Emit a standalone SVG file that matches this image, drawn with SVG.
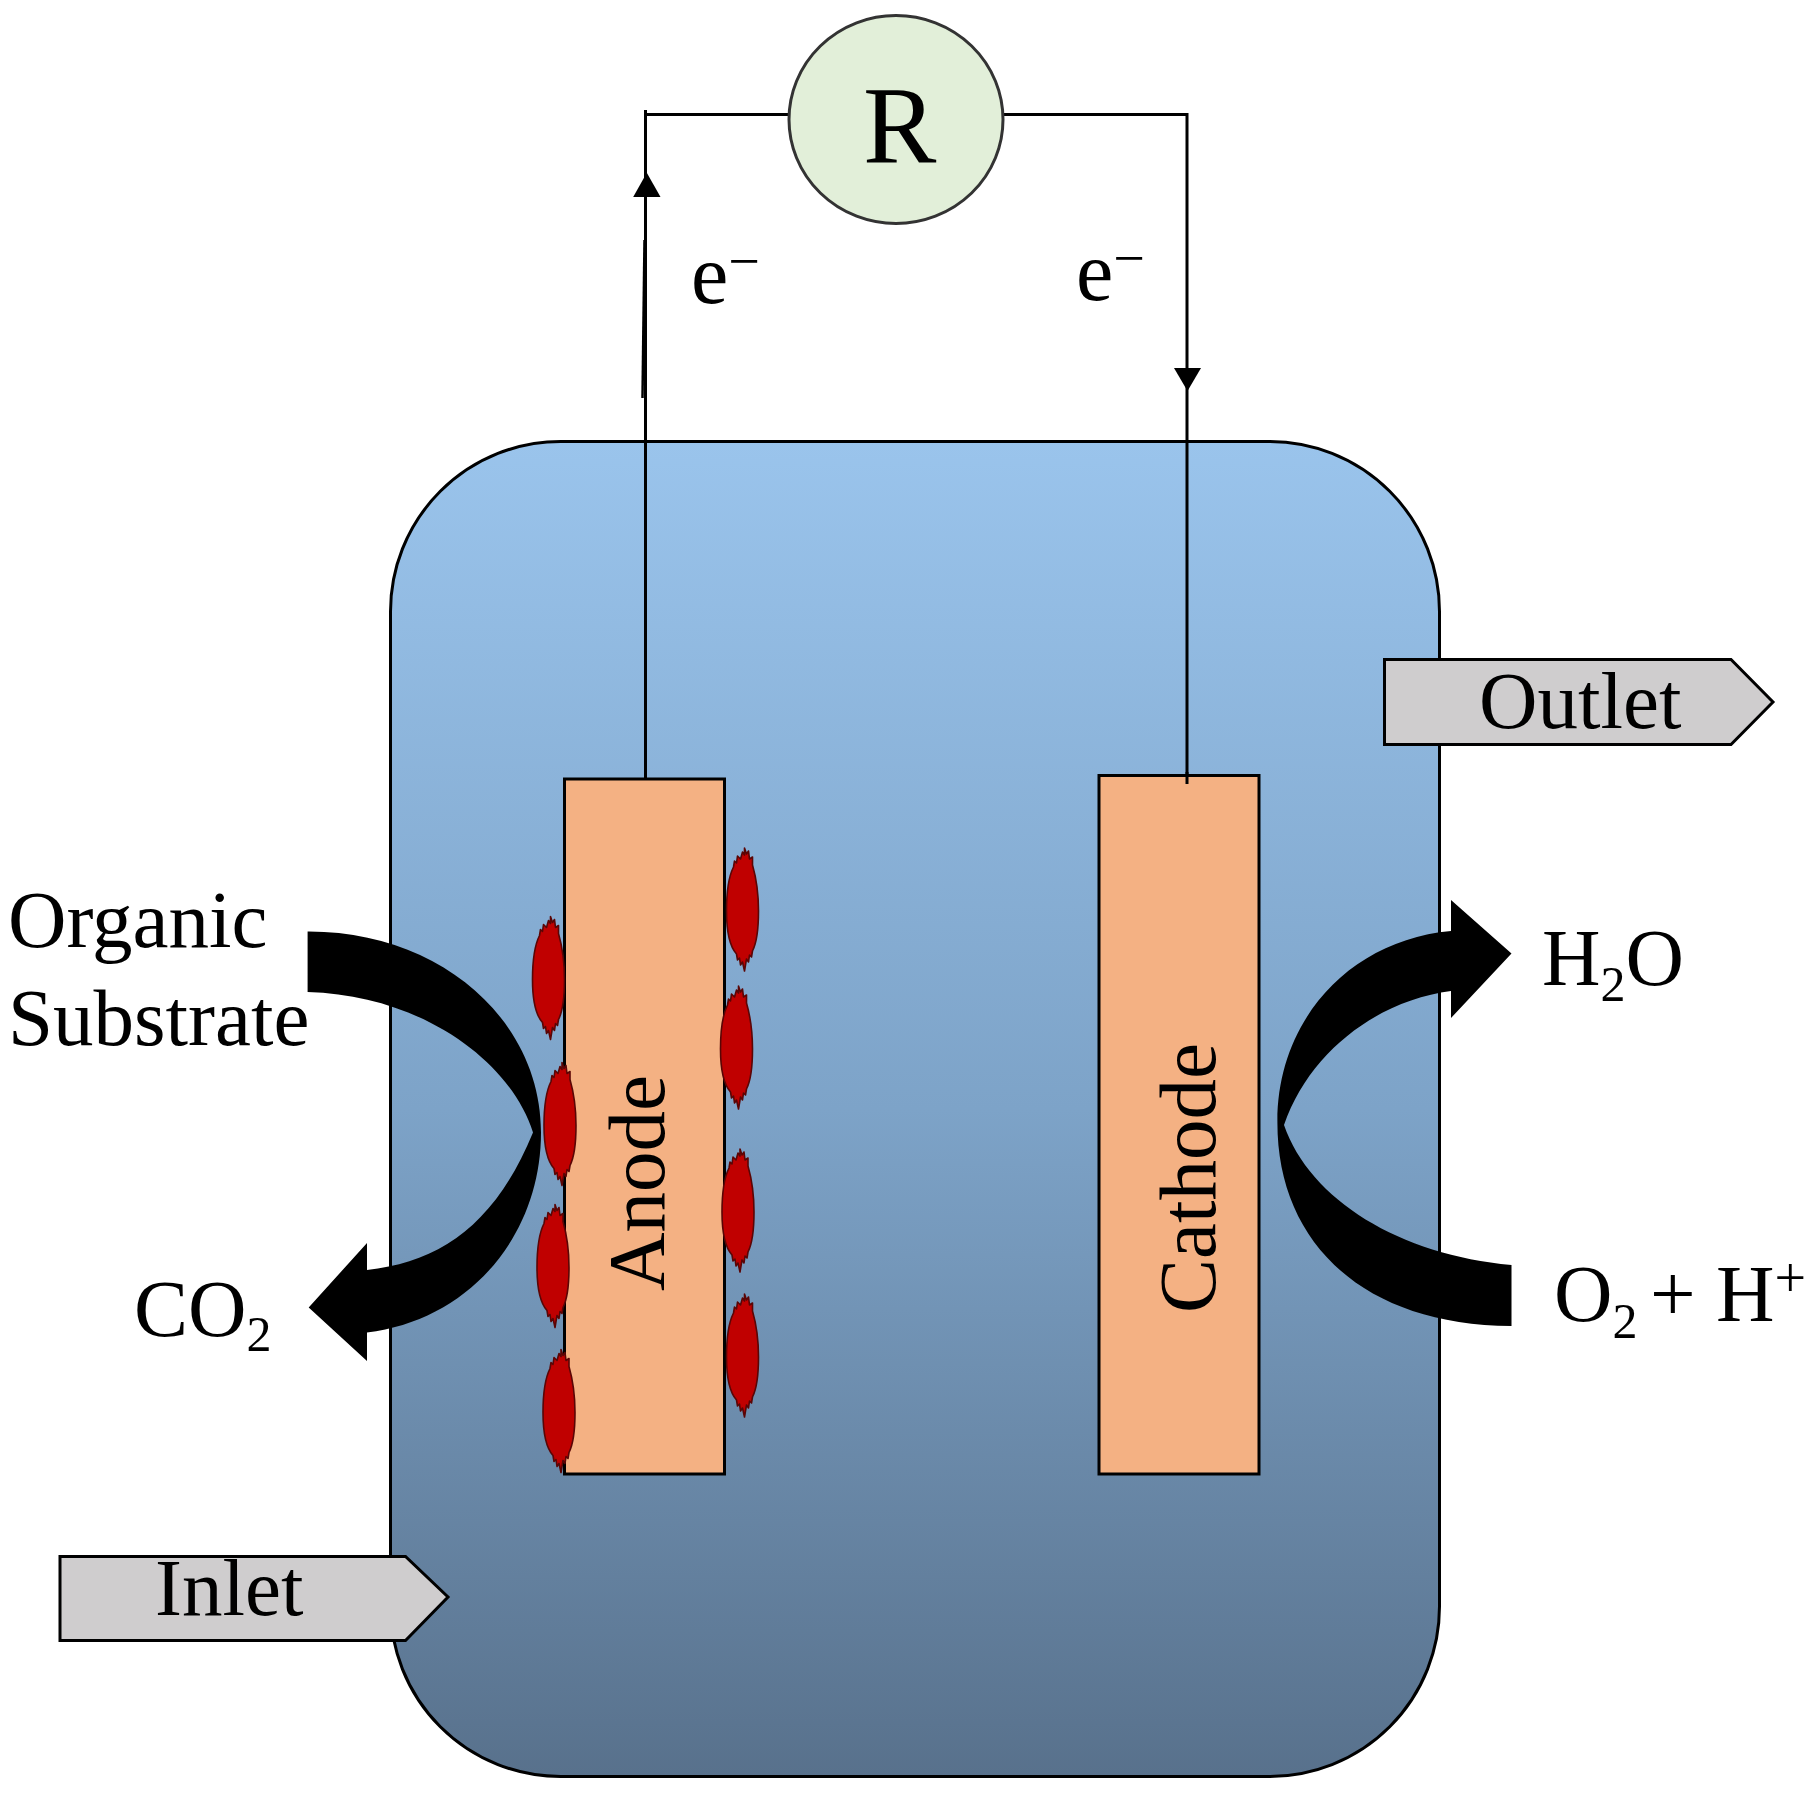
<svg xmlns="http://www.w3.org/2000/svg" xmlns:xlink="http://www.w3.org/1999/xlink" width="1817" height="1793" viewBox="0 0 1817 1793">
<style>
text{font-family:"Liberation Serif","Times New Roman",serif;fill:#000}
.t{font-size:81px}
.s{font-size:50px}
.box{stroke:#000;stroke-width:3}
.elec{fill:#f4b183}
.tag{fill:#cfcdce}
.wire{fill:none;stroke:#000;stroke-width:3}
.blob{fill:#c00000;stroke:#5a0505;stroke-width:1.6;stroke-linejoin:round}
</style>
<defs>
<linearGradient id="water" x1="0" y1="0" x2="0" y2="1">
<stop offset="0" stop-color="#9ac4ec"/>
<stop offset="0.5" stop-color="#7da3c8"/>
<stop offset="1" stop-color="#58718c"/>
</linearGradient>
<path id="biofilm" d="M2 -61l2 6l2 -3l1 8l3 -2l0 8C14 -30 16 -12 16 2C16 20 14 34 10 42l-1 6l-2 -2l-1 7l-2 -3l-2 12l-2 -9l-2 3l-1 -7l-2 2l-1 -6C-14 36 -16 18 -16 2C-16 -15 -14 -32 -9 -42l1 -6l2 2l1 -7l3 3l2 -7l2 3Z"/>
</defs>
<rect width="1817" height="1793" fill="#fff"/>
<g id="tank"><rect class="box" x="390.500" y="441.500" width="1049" height="1335" rx="170" ry="170" fill="url(#water)"/></g>
<g id="connectors">
<path class="wire" d="M645.500 779V110M644 114.500H790"/>
<path class="wire" style="stroke-width:2.500" d="M642.500 398L644.500 240"/>
<path d="M646.800 172.700L660.500 197H633.200Z"/>
<path class="wire" d="M1002 114.500H1187V783"/>
<path d="M1187.500 391L1174 368H1201Z"/>
<path d="M307.600 931.600C440 931 541 1020 541 1132.500C541 1235 470 1320 367 1332.500V1361L308.700 1307.500L367 1243V1270C440 1262 495 1225 533 1132.500C510 1060 420 995 307.600 992Z"/>
<path d="M1277.400 1122C1277 1020 1350 940 1451 931V900L1511.500 953.500L1451 1018V991C1380 1000 1310 1050 1284 1125C1310 1200 1400 1255 1511.500 1265V1326C1360 1325 1277 1240 1277.400 1122Z"/>
</g>
<g id="anode">
<rect class="box elec" x="564.500" y="779" width="160" height="695"/>
<text class="t" transform="translate(663.500 1291) rotate(-90)">Anode</text>
</g>
<g id="cathode">
<rect class="box elec" x="1099" y="775.500" width="160" height="698.500"/>
<text class="t" transform="translate(1214.500 1313) rotate(-90)">Cathode</text>
<path class="wire" d="M1187 772V784"/>
</g>
<g id="biofilms">
<use class="blob" xlink:href="#biofilm" href="#biofilm" x="548.500" y="977.500"/>
<use class="blob" xlink:href="#biofilm" href="#biofilm" x="560" y="1123.500"/>
<use class="blob" xlink:href="#biofilm" href="#biofilm" x="553" y="1265.500"/>
<use class="blob" xlink:href="#biofilm" href="#biofilm" x="559" y="1410.500"/>
<use class="blob" xlink:href="#biofilm" href="#biofilm" x="742.500" y="909"/>
<use class="blob" xlink:href="#biofilm" href="#biofilm" x="736.500" y="1047"/>
<use class="blob" xlink:href="#biofilm" href="#biofilm" x="738" y="1210"/>
<use class="blob" xlink:href="#biofilm" href="#biofilm" x="742.500" y="1355"/>
</g>
<g id="resistor">
<ellipse cx="896" cy="119.500" rx="107" ry="104" fill="#e2efd9" stroke="#333" stroke-width="3"/>
<text x="863" y="163" font-size="110">R</text>
</g>
<g id="outlet">
<path class="box tag" d="M1384.500 659.500H1731L1773 702L1731 744.500H1384.500Z"/>
<text class="t" x="1479" y="727.500">Outlet</text>
</g>
<g id="inlet">
<path class="box tag" d="M60 1556.500H405.500L448 1597L405.500 1640.500H60Z"/>
<text class="t" x="155" y="1615">Inlet</text>
</g>
<g id="labels">
<text x="691" y="303" font-size="84">e<tspan font-size="56" dy="-23.500">−</tspan></text>
<text x="1076" y="300" font-size="84">e<tspan font-size="56" dy="-23.500">−</tspan></text>
<text class="t" x="8" y="947">Organic</text>
<text class="t" x="8" y="1044.500">Substrate</text>
<text class="t" x="134" y="1335.500">CO<tspan class="s" dy="15.500">2</tspan></text>
<text class="t" x="1542" y="984.500">H<tspan class="s" dy="16.500">2</tspan><tspan dy="-16.500">O</tspan></text>
<text class="t" x="1554" y="1321">O<tspan class="s" dy="17">2 </tspan><tspan dy="-17">+ H</tspan><tspan font-size="56" dy="-24">+</tspan></text>
</g>
</svg>
